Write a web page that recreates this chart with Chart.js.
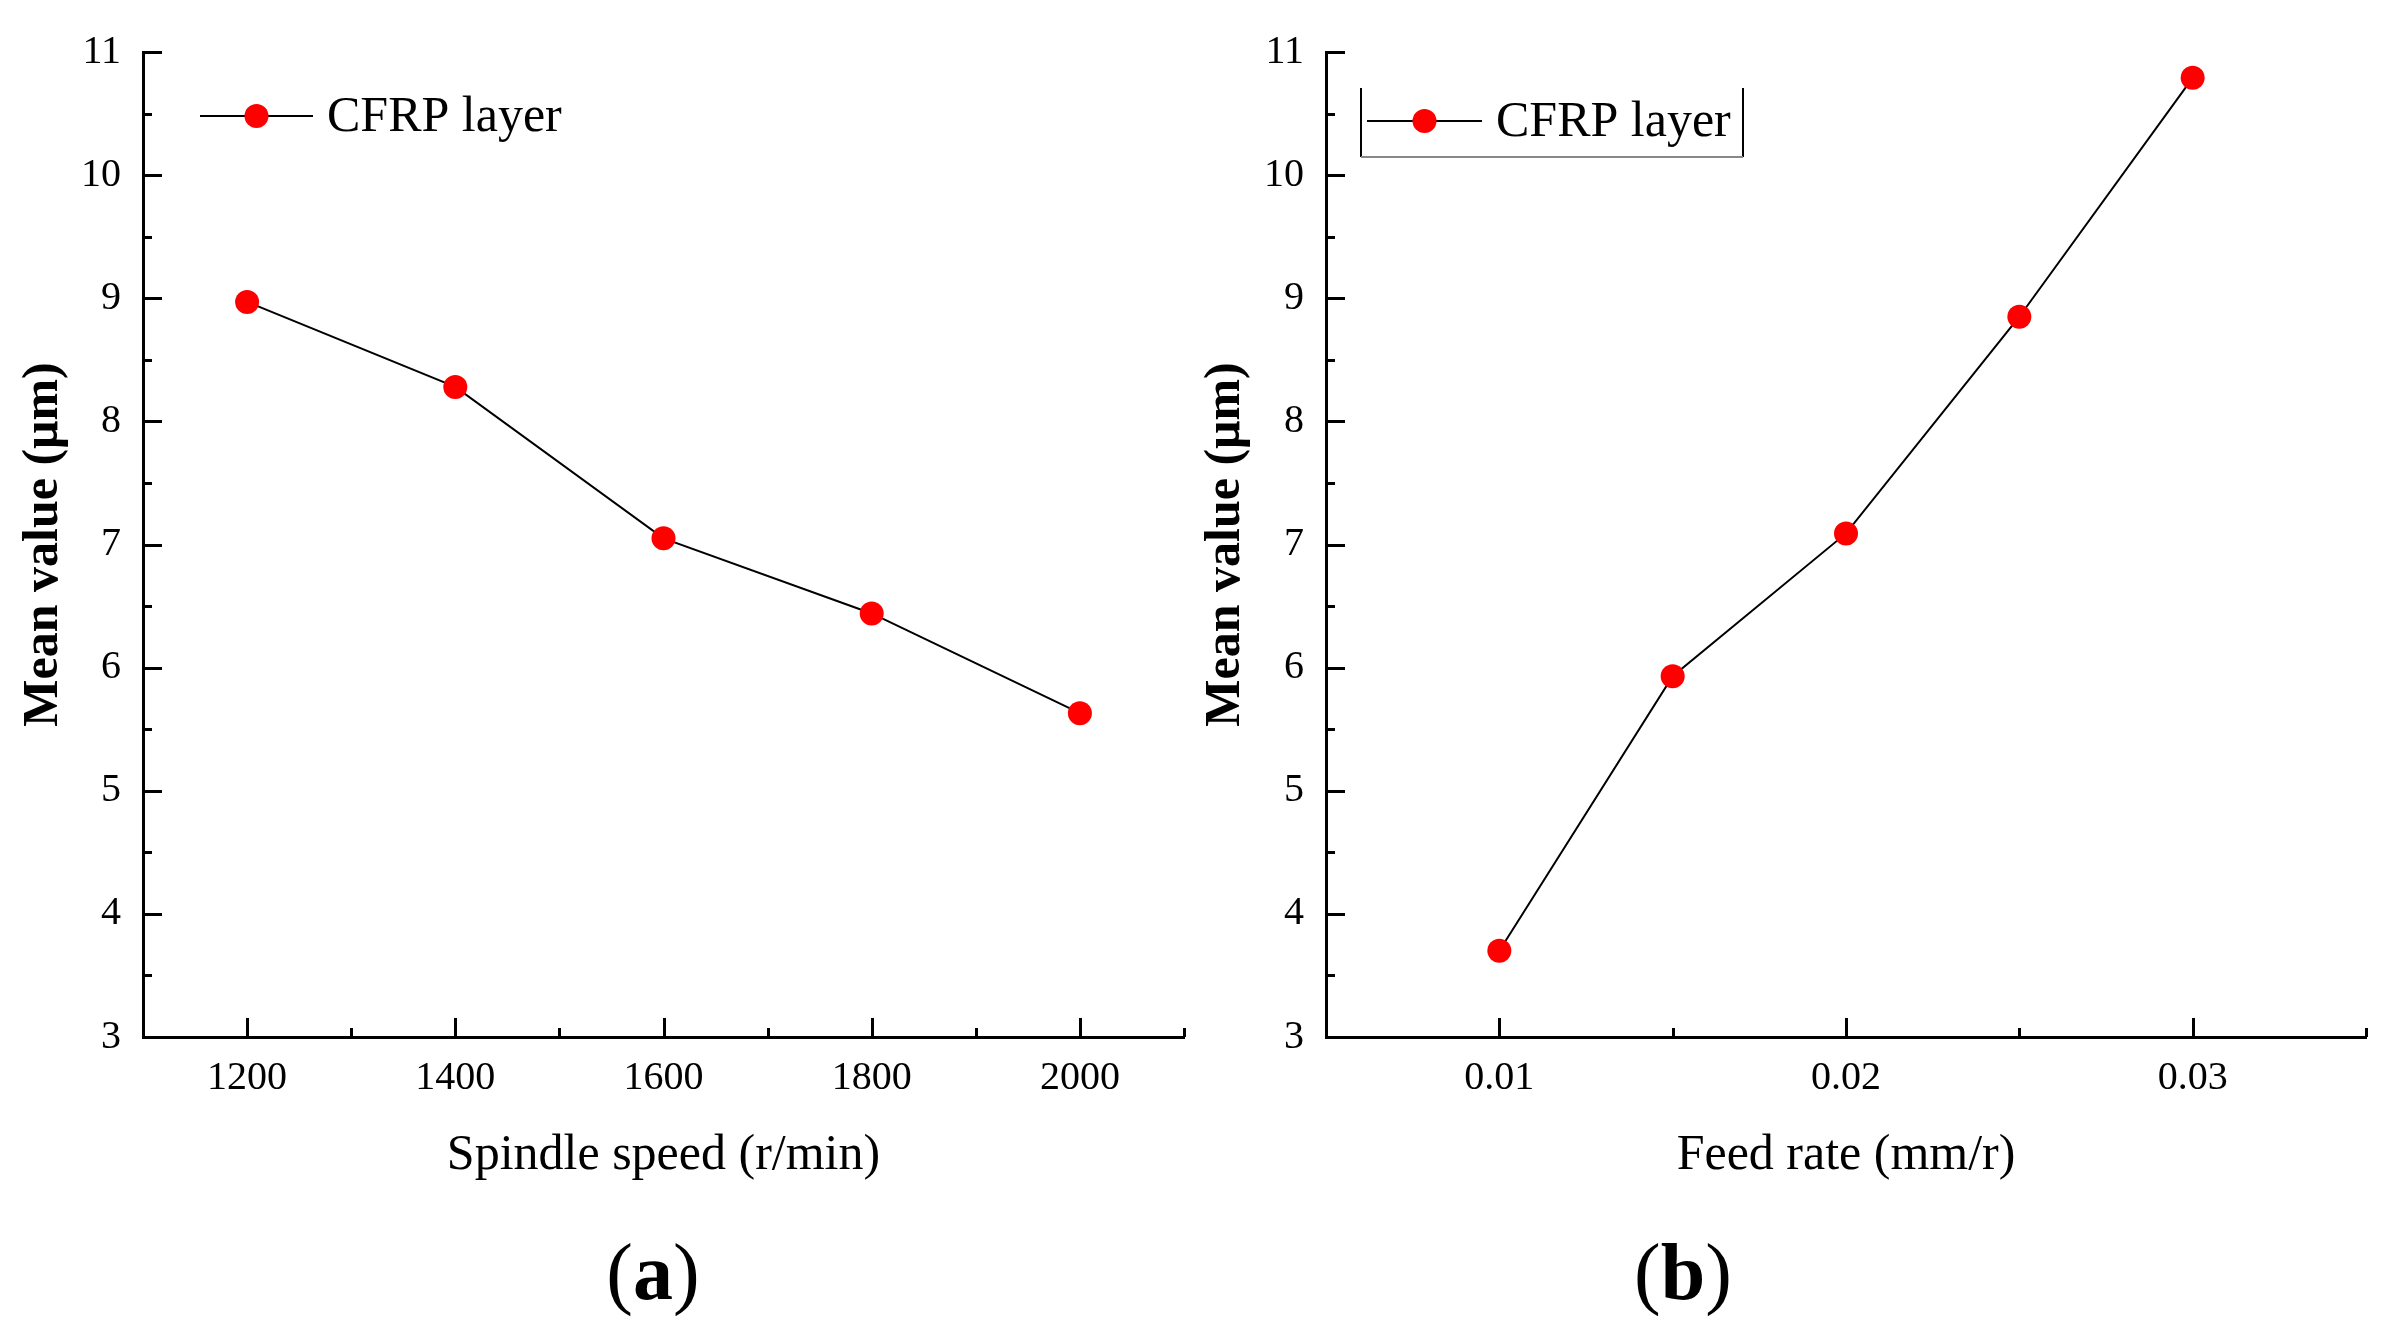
<!DOCTYPE html>
<html>
<head>
<meta charset="utf-8">
<script src="https://cdn.jsdelivr.net/npm/chart.js@4.4.0/dist/chart.umd.min.js"></script>
<style>
  body { margin: 0; background: #fff; width: 2392px; height: 1344px; overflow: hidden; position: relative; font-family: "Liberation Serif", serif; }
  .box { position: absolute; top: 0; width: 1196px; height: 1200px; }
  .panel { position: absolute; top: 1232px; font-size: 80px; line-height: 1; transform: translateX(-50%); color: #000; }
</style>
</head>
<body>
<div class="box" style="left:0"><canvas id="chartA"></canvas></div>
<div class="box" style="left:1196px"><canvas id="chartB"></canvas></div>
<div class="panel" style="left:653px">(<b>a</b>)</div>
<div class="panel" style="left:1683px">(<b>b</b>)</div>
<script>
// values
const spindleSpeed = [1200, 1400, 1600, 1800, 2000];
const meanBySpeed = [8.97, 8.28, 7.05, 6.44, 5.63];
const feedRate = [0.01, 0.015, 0.02, 0.025, 0.03];
const meanByFeed = [3.70, 5.93, 7.09, 8.85, 10.79];
const speedTickLabels = [1200, 1400, 1600, 1800, 2000];
const feedTickLabels = [0.01, 0.02, 0.03];
const meanTickLabels = [3, 4, 5, 6, 7, 8, 9, 10, 11];
const seriesName = "CFRP layer";

const FONT = '"Liberation Serif"';

function isIn(list, v) {
  return list.some(m => Math.abs(m - v) < 1e-9);
}

// Origin-style ticks pointing into the plot, long ones for labelled values
const inwardTicks = {
  id: "inwardTicks",
  afterDraw(chart, args, opts) {
    const ctx = chart.ctx;
    const xs = chart.scales.x, ys = chart.scales.y;
    const { left, bottom } = chart.chartArea;
    ctx.save();
    ctx.strokeStyle = "#000";
    ctx.lineWidth = 3;
    xs.ticks.forEach(t => {
      const px = Math.round(xs.getPixelForValue(t.value)) + 0.5;
      const len = isIn(opts.xMajor, t.value) ? 19 : 9;
      ctx.beginPath();
      ctx.moveTo(px, bottom);
      ctx.lineTo(px, bottom - len);
      ctx.stroke();
    });
    ys.ticks.forEach(t => {
      const py = Math.round(ys.getPixelForValue(t.value)) + 0.5;
      const len = isIn(opts.yMajor, t.value) ? 19 : 9;
      ctx.beginPath();
      ctx.moveTo(left, py);
      ctx.lineTo(left + len, py);
      ctx.stroke();
    });
    ctx.restore();
  }
};

const lineLegend = {
  id: "lineLegend",
  afterDraw(chart, args, opts) {
    const ctx = chart.ctx;
    const ds = chart.data.datasets[0];
    ctx.save();
    if (opts.box) {
      const [l, t, r, b] = opts.box;
      ctx.lineWidth = 2;
      ctx.strokeStyle = "#000";
      ctx.beginPath();
      ctx.moveTo(l, t); ctx.lineTo(l, b);
      ctx.moveTo(r, t); ctx.lineTo(r, b);
      ctx.stroke();
      ctx.strokeStyle = "#888";
      ctx.beginPath();
      ctx.moveTo(l, b); ctx.lineTo(r, b);
      ctx.stroke();
    }
    ctx.strokeStyle = ds.borderColor;
    ctx.lineWidth = 2;
    ctx.beginPath();
    ctx.moveTo(opts.x, opts.y);
    ctx.lineTo(opts.x + opts.len, opts.y);
    ctx.stroke();
    ctx.fillStyle = ds.pointBackgroundColor;
    ctx.beginPath();
    ctx.arc(opts.x + opts.len / 2, opts.y, 12, 0, Math.PI * 2);
    ctx.fill();
    ctx.fillStyle = "#000";
    ctx.font = "50px " + FONT;
    ctx.textBaseline = "middle";
    ctx.fillText(ds.label, opts.x + opts.len + 14, opts.y + 2);
    ctx.restore();
  }
};

function makeChart(id, xs, ys, cfg) {
  const ctx = document.getElementById(id);
  return new Chart(ctx, {
    type: "line",
    data: {
      datasets: [{
        label: seriesName,
        data: xs.map((x, i) => ({ x: x, y: ys[i] })),
        borderColor: "#000",
        borderWidth: 2,
        pointBackgroundColor: "#ff0000",
        pointBorderWidth: 0,
        pointRadius: 12,
        pointHoverRadius: 12,
        tension: 0
      }]
    },
    options: {
      responsive: true,
      maintainAspectRatio: false,
      animation: false,
      events: [],
      layout: { padding: { top: 52, right: cfg.padRight, left: 0, bottom: 0 } },
      plugins: {
        legend: { display: false },
        tooltip: { enabled: false },
        inwardTicks: { xMajor: cfg.xLabels, yMajor: meanTickLabels },
        lineLegend: cfg.legend
      },
      scales: {
        x: {
          type: "linear",
          min: cfg.xMin,
          max: cfg.xMax,
          afterFit(s) { s.height = 163; s.paddingLeft = 0; s.paddingRight = 0; },
          grid: { display: false, drawTicks: false },
          border: { display: true, color: "#000", width: 3 },
          ticks: {
            stepSize: cfg.xStep,
            autoSkip: false,
            maxRotation: 0,
            padding: 17,
            color: "#000",
            font: { family: FONT, size: 40 },
            callback: v => isIn(cfg.xLabels, v) ? cfg.fmt(v) : ""
          },
          title: {
            display: true,
            text: cfg.xTitle,
            color: "#000",
            font: { family: FONT, size: 50 },
            padding: { top: 0, bottom: 14 }
          }
        },
        y: {
          min: 3,
          max: 11,
          afterFit(s) { s.width = cfg.yWidth; },
          grid: { display: false, drawTicks: false },
          border: { display: true, color: "#000", width: 3 },
          ticks: {
            stepSize: 0.5,
            autoSkip: false,
            padding: 22,
            color: "#000",
            font: { family: FONT, size: 40 },
            callback: v => isIn(meanTickLabels, v) ? String(v) : ""
          },
          title: {
            display: true,
            text: "Mean value (\u03bcm)",
            color: "#000",
            font: { family: FONT, size: 50, weight: "bold" },
            padding: { top: cfg.yTitlePad, bottom: 0 }
          }
        }
      }
    },
    plugins: [inwardTicks, lineLegend]
  });
}

const chartA = makeChart("chartA", spindleSpeed, meanBySpeed, {
  xMin: 1100, xMax: 2100, xStep: 100,
  xLabels: speedTickLabels,
  fmt: v => String(v),
  xTitle: "Spindle speed (r/min)",
  yWidth: 143, yTitlePad: 14, padRight: 9,
  legend: { x: 200, y: 116, len: 113 }
});

const chartB = makeChart("chartB", feedRate, meanByFeed, {
  xMin: 0.005, xMax: 0.035, xStep: 0.005,
  xLabels: feedTickLabels,
  fmt: v => v.toFixed(2),
  xTitle: "Feed rate (mm/r)",
  yWidth: 130, yTitlePad: 0, padRight: 26,
  legend: { x: 171, y: 121, len: 115, box: [165, 88, 547, 157] }
});
</script>
</body>
</html>
